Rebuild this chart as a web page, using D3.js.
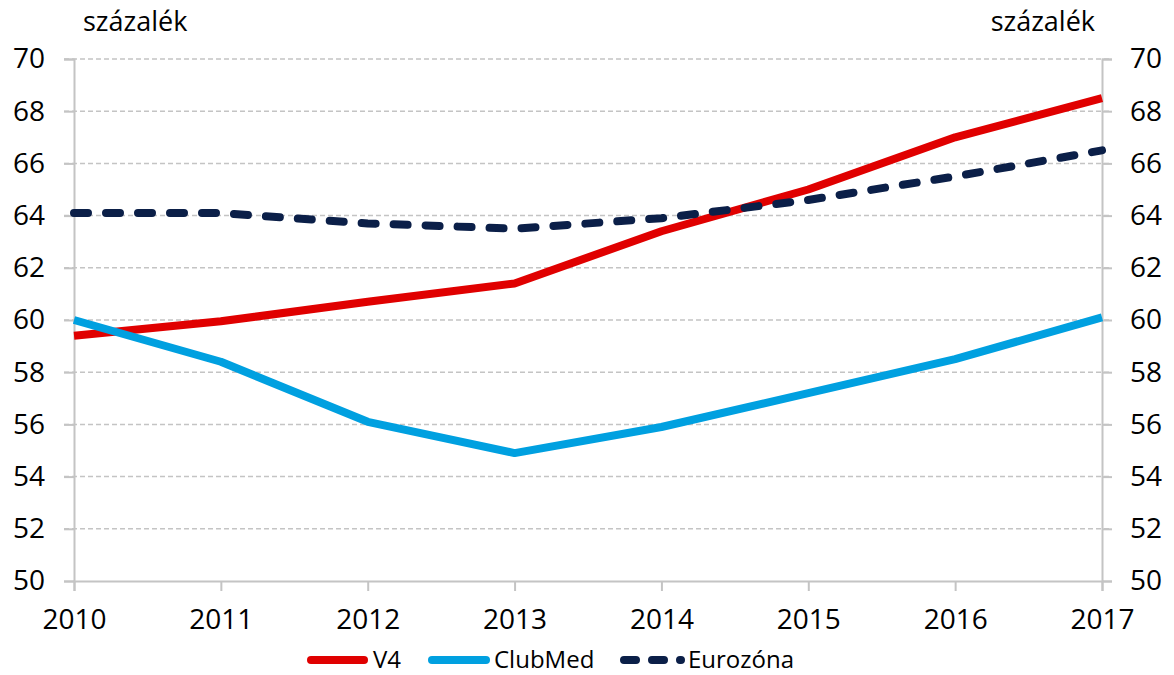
<!DOCTYPE html>
<html><head><meta charset="utf-8">
<script src="https://cdn.jsdelivr.net/npm/d3@7"></script>
<style>body{margin:0;background:#fff}svg{display:block}text{font-family:"Open Sans",sans-serif;fill:#000}</style>
</head><body><svg id="c" width="1174" height="675"></svg>
<script>
const years = [2010, 2011, 2012, 2013, 2014, 2015, 2016, 2017];
const v4 = [59.4, 59.95, 60.7, 61.4, 63.4, 65.0, 67.0, 68.5];
const clubMed = [60.0, 58.4, 56.1, 54.9, 55.9, 57.2, 58.5, 60.1];
const eurozone = [64.1, 64.1, 63.7, 63.5, 63.9, 64.6, 65.5, 66.5];
const yTicks = [50, 52, 54, 56, 58, 60, 62, 64, 66, 68, 70];
const unitLabel = "százalék";
const seriesNames = ["V4", "ClubMed", "Eurozóna"];

const svg = d3.select("#c");
const L = 74, R = 1102, T = 59, B = 581;
const x = d3.scaleLinear().domain([2010, 2017]).range([L, R]);
const y = d3.scaleLinear().domain([50, 70]).range([B, T]);

// gridlines
svg.append("g").selectAll("line").data(yTicks.filter(d => d > 50)).join("line")
  .attr("x1", L - 10).attr("x2", R + 10).attr("y1", d => y(d)).attr("y2", d => y(d))
  .attr("stroke", "#c4c4c4").attr("stroke-width", 1.5).attr("stroke-dasharray", "5,3");

// axes
const fs = 28;
const yl = d3.axisLeft(y).tickValues(yTicks).tickSize(10).tickPadding(8);
const yr = d3.axisRight(y).tickValues(yTicks).tickSize(10).tickPadding(18);
const xb = d3.axisBottom(x).tickValues(years).tickFormat(d3.format("d")).tickSize(10).tickPadding(18);
function style(g){
  g.select(".domain").attr("stroke", "#c4c4c4").attr("stroke-width", 2);
  g.selectAll(".tick line").attr("stroke", "#c4c4c4").attr("stroke-width", 2);
  g.selectAll(".tick text").attr("font-size", fs).attr("font-family", "Open Sans").attr("fill", "#000");
}
svg.append("g").attr("transform", `translate(${L},0)`).call(yl).call(style)
  .selectAll(".tick text").attr("x", -29);
svg.append("g").attr("transform", `translate(${R},0)`).call(yr).call(style)
  .selectAll(".tick text").attr("x", 28);
svg.append("g").attr("transform", `translate(0,${B})`).call(xb).call(style);

// series
const line = d3.line().x((d, i) => x(years[i])).y(d => y(d));
const colors = ["#e00000", "#00a0e0", "#0b1f48"];
const data = [v4, clubMed, eurozone];
data.forEach((s, k) => {
  svg.append("path").datum(s).attr("d", line).attr("fill", "none")
    .attr("stroke", colors[k]).attr("stroke-width", 8)
    .attr("stroke-linejoin", "round")
    .attr("stroke-linecap", k === 2 ? "round" : "butt")
    .attr("stroke-dasharray", k === 2 ? "14,18" : null);
});

// unit labels
svg.append("text").attr("x", 83).attr("y", 31).attr("font-size", 27).text(unitLabel);
svg.append("text").attr("x", 1095).attr("y", 31).attr("font-size", 27).attr("text-anchor", "end").text(unitLabel);

// legend
const lg = [{x1: 311, x2: 364, tx: 373}, {x1: 432, x2: 486, tx: 494}, {x1: 624, x2: 681, tx: 688}];
const ly = 660;
lg.forEach((p, k) => {
  svg.append("line").attr("x1", p.x1).attr("x2", p.x2).attr("y1", ly).attr("y2", ly)
    .attr("stroke", colors[k]).attr("stroke-width", 8).attr("stroke-linecap", "round")
    .attr("stroke-dasharray", k === 2 ? "12,16,12,16,1,30" : null);
  svg.append("text").attr("x", p.tx).attr("y", 668).attr("font-size", 24).text(seriesNames[k]);
});
</script></body></html>
